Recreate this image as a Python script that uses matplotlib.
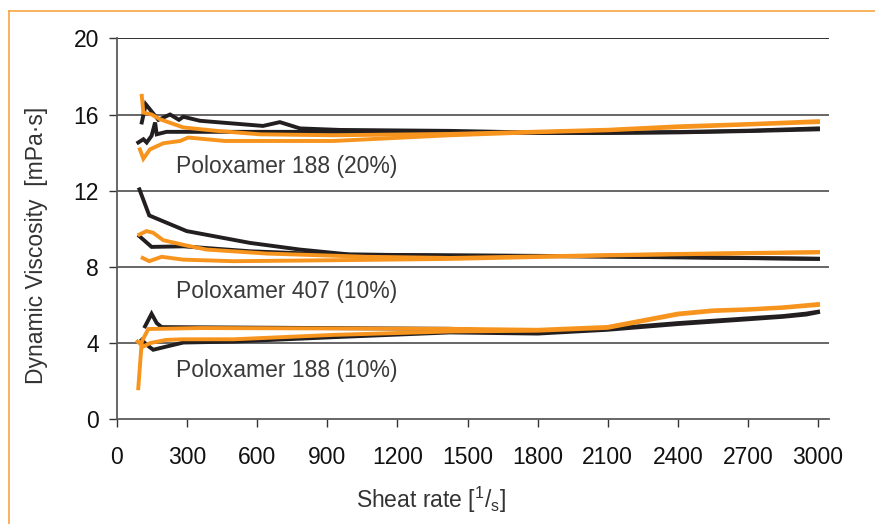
import matplotlib.pyplot as plt
from matplotlib.lines import Line2D

plt.rcParams['font.family'] = ['Liberation Sans', 'DejaVu Sans']

BLACK = '#231f20'
ORANGE = '#f7941d'

# Poloxamer 188 (20%)
p188_20_black_up_x = [106, 123, 177, 227, 265, 284, 355, 625, 697, 783, 954, 1425, 1800, 2100, 2400, 2700, 3000]
p188_20_black_up_y = [15.58, 16.54, 15.72, 16.0, 15.72, 15.88, 15.67, 15.4, 15.6, 15.27, 15.19, 15.14, 15.05, 15.05, 15.08, 15.15, 15.27]
p188_20_black_dn_x = [91, 113, 127, 148, 163, 170, 212, 1425, 1800, 2100, 2400, 2700, 3000]
p188_20_black_dn_y = [14.53, 14.7, 14.53, 14.88, 15.58, 14.96, 15.09, 15.09, 15.03, 15.03, 15.06, 15.13, 15.22]
p188_20_orange_up_x = [106, 113, 148, 184, 284, 427, 612, 925, 1425, 1800, 2100, 2400, 2700, 3000]
p188_20_orange_up_y = [16.98, 16.1, 16.0, 15.75, 15.32, 15.14, 14.96, 14.91, 14.98, 15.1, 15.2, 15.38, 15.5, 15.65]
p188_20_orange_dn_x = [98, 113, 141, 198, 270, 305, 462, 925, 1425, 1800, 2100, 2400, 2700, 3000]
p188_20_orange_dn_y = [14.17, 13.68, 14.17, 14.49, 14.61, 14.79, 14.61, 14.61, 14.91, 15.07, 15.17, 15.33, 15.47, 15.6]

# Poloxamer 407 (10%)
p407_black_up_x = [96, 138, 298, 569, 783, 997, 1425, 1800, 2100, 2400, 2700, 3000]
p407_black_up_y = [12.07, 10.7, 9.88, 9.26, 8.91, 8.65, 8.6, 8.58, 8.55, 8.52, 8.47, 8.43]
p407_black_dn_x = [96, 148, 284, 569, 925, 1425, 1800, 2100, 2400, 2700, 3000]
p407_black_dn_y = [9.61, 9.05, 9.08, 8.82, 8.65, 8.6, 8.57, 8.54, 8.5, 8.46, 8.42]
p407_orange_up_x = [96, 126, 155, 198, 298, 384, 641, 1068, 1425, 1800, 2100, 2400, 2700, 3000]
p407_orange_up_y = [9.7, 9.88, 9.79, 9.4, 9.12, 8.91, 8.7, 8.53, 8.47, 8.55, 8.62, 8.68, 8.73, 8.78]
p407_orange_dn_x = [110, 138, 191, 284, 498, 925, 1425, 1800, 2100, 2400, 2700, 3000]
p407_orange_dn_y = [8.47, 8.3, 8.53, 8.38, 8.3, 8.35, 8.42, 8.52, 8.6, 8.66, 8.71, 8.76]

# Poloxamer 188 (10%)
p188_10_black_up_x = [120, 148, 170, 191, 1425, 1800, 2100, 2400, 2700, 2850, 2950, 3000]
p188_10_black_up_y = [4.88, 5.54, 5.05, 4.84, 4.75, 4.55, 4.75, 5.05, 5.3, 5.42, 5.55, 5.65]
p188_10_black_dn_x = [106, 127, 155, 212, 284, 498, 925, 1425, 1800, 2100, 2400, 2700, 2850, 2950, 3000]
p188_10_black_dn_y = [4.17, 3.91, 3.65, 3.82, 4.03, 4.08, 4.31, 4.56, 4.5, 4.7, 5.0, 5.25, 5.38, 5.5, 5.62]
p188_10_orange_up_x = [91, 106, 134, 355, 1425, 1800, 2100, 2250, 2400, 2550, 2700, 2850, 3000]
p188_10_orange_up_y = [1.63, 4.08, 4.74, 4.79, 4.75, 4.7, 4.85, 5.2, 5.55, 5.72, 5.78, 5.88, 6.05]
p188_10_orange_dn_x = [88, 113, 141, 212, 284, 498, 925, 1425, 1800, 2100, 2250, 2400, 2550, 2700, 2850, 3000]
p188_10_orange_dn_y = [4.08, 3.82, 4.0, 4.17, 4.2, 4.2, 4.43, 4.61, 4.65, 4.8, 5.15, 5.5, 5.68, 5.75, 5.85, 6.0]

x_ticks = [0, 300, 600, 900, 1200, 1500, 1800, 2100, 2400, 2700, 3000]
y_ticks = [0, 4, 8, 12, 16, 20]
labels = ['Poloxamer 188 (20%)', 'Poloxamer 407 (10%)', 'Poloxamer 188 (10%)']
label_y = [12.95, 6.38, 2.21]

fig = plt.figure(figsize=(8.75, 5.24), dpi=100)
ax = fig.add_axes([117 / 875, 1 - 419.3 / 524, 712 / 875, 381 / 524])

for y in y_ticks[1:]:
    ax.axhline(y, color=BLACK if y == 20 else '#5a5a5a', lw=1.3, zorder=1)

blacks = [(p188_20_black_up_x, p188_20_black_up_y), (p188_20_black_dn_x, p188_20_black_dn_y),
          (p407_black_up_x, p407_black_up_y), (p407_black_dn_x, p407_black_dn_y),
          (p188_10_black_up_x, p188_10_black_up_y), (p188_10_black_dn_x, p188_10_black_dn_y)]
oranges = [(p188_20_orange_up_x, p188_20_orange_up_y), (p188_20_orange_dn_x, p188_20_orange_dn_y),
           (p407_orange_up_x, p407_orange_up_y), (p407_orange_dn_x, p407_orange_dn_y),
           (p188_10_orange_up_x, p188_10_orange_up_y), (p188_10_orange_dn_x, p188_10_orange_dn_y)]
for xs, ys in blacks:
    ax.plot(xs, ys, color=BLACK, lw=2.8, solid_joinstyle='miter', zorder=3)
for xs, ys in oranges:
    ax.plot(xs, ys, color=ORANGE, lw=2.8, solid_joinstyle='miter', zorder=4)

for txt, yy in zip(labels, label_y):
    ax.text(252, yy, txt, fontsize=16.5, color='#3a3a3a', va='baseline', ha='left')

ax.set_xlim(0, 3047)
ax.set_ylim(0, 20)
ax.set_xticks(x_ticks)
ax.set_yticks(y_ticks)
for s in ['top', 'right']:
    ax.spines[s].set_visible(False)
for s in ['left', 'bottom']:
    ax.spines[s].set_color('#5a5a5a')
    ax.spines[s].set_linewidth(1.3)
ax.tick_params(axis='x', direction='out', length=6, width=1, color='#333333',
               pad=13, labelsize=16.5, labelcolor='#111111')
ax.tick_params(axis='y', direction='out', length=6, width=1, color='#333333',
               pad=7, labelsize=16.5, labelcolor='#111111')

fig.text(431 / 875, 1 - 508 / 524, r'Sheat rate [$\mathregular{^1/_s}$]', fontsize=16.5,
         color='#333333', ha='center', va='baseline')
fig.text(37 / 875, 1 - 245 / 524, 'Dynamic Viscosity  [mPa·s]', fontsize=16.5,
         color='#333333', ha='center', va='center', rotation=90)

# orange frame on top and left
fig.add_artist(Line2D([9 / 875, 9 / 875], [0, 1 - 10.5 / 524], color='#f7a541', lw=1.2,
                      transform=fig.transFigure))
fig.add_artist(Line2D([9 / 875, 1], [1 - 10.5 / 524, 1 - 10.5 / 524], color='#f7a541', lw=1.2,
                      transform=fig.transFigure))

fig.savefig('out.png', dpi=100)
